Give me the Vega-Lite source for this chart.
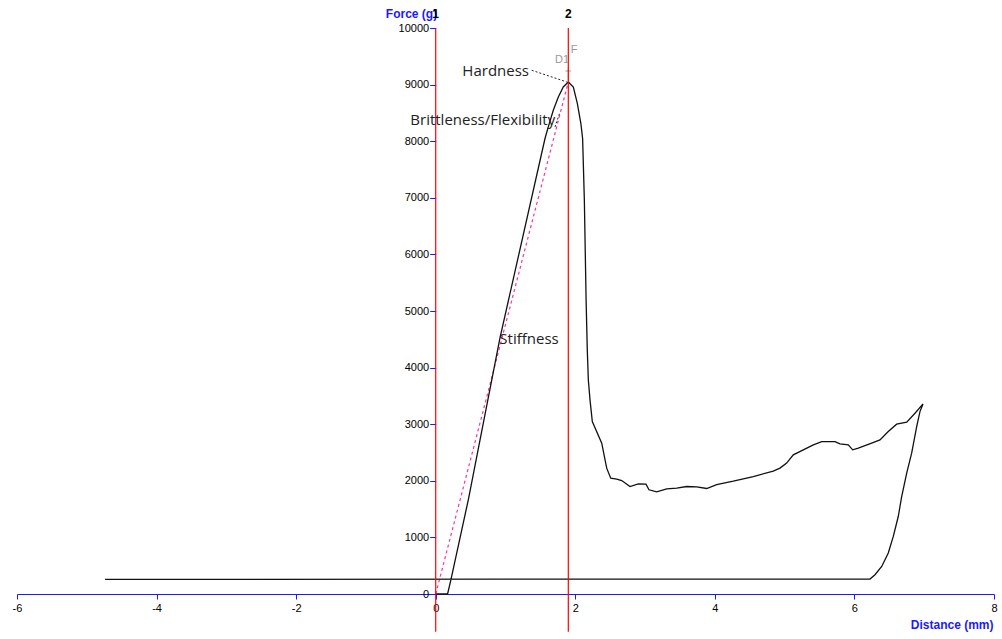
{
  "$schema": "https://vega.github.io/schema/vega-lite/v6.json",
  "width": 977,
  "height": 566,
  "autosize": {"type": "none"},
  "padding": {"left": 17, "top": 28, "right": 8, "bottom": 45},
  "background": "white",
  "config": {"view": {"stroke": null}},
  "datasets": {
    "curve": [
      {"i": 1, "d": 0, "f": 0},
      {"i": 2, "d": 0.17, "f": 0},
      {"i": 3, "d": 0.219, "f": 258},
      {"i": 4, "d": 0.467, "f": 1664},
      {"i": 5, "d": 0.921, "f": 4525},
      {"i": 6, "d": 1.566, "f": 8048},
      {"i": 7, "d": 1.613, "f": 8252},
      {"i": 8, "d": 1.685, "f": 8547},
      {"i": 9, "d": 1.757, "f": 8782},
      {"i": 10, "d": 1.828, "f": 8958},
      {"i": 11, "d": 1.9, "f": 9047},
      {"i": 12, "d": 1.972, "f": 8958},
      {"i": 13, "d": 2.03, "f": 8665},
      {"i": 14, "d": 2.08, "f": 8312},
      {"i": 15, "d": 2.105, "f": 8048},
      {"i": 16, "d": 2.13, "f": 6959},
      {"i": 17, "d": 2.155, "f": 5194},
      {"i": 18, "d": 2.172, "f": 4311},
      {"i": 19, "d": 2.187, "f": 3782},
      {"i": 20, "d": 2.211, "f": 3429},
      {"i": 21, "d": 2.244, "f": 3046},
      {"i": 22, "d": 2.379, "f": 2665},
      {"i": 23, "d": 2.45, "f": 2224},
      {"i": 24, "d": 2.508, "f": 2047},
      {"i": 25, "d": 2.594, "f": 2030},
      {"i": 26, "d": 2.665, "f": 2005},
      {"i": 27, "d": 2.784, "f": 1899},
      {"i": 28, "d": 2.903, "f": 1947},
      {"i": 29, "d": 3.013, "f": 1941},
      {"i": 30, "d": 3.056, "f": 1841},
      {"i": 31, "d": 3.167, "f": 1805},
      {"i": 32, "d": 3.31, "f": 1858},
      {"i": 33, "d": 3.453, "f": 1871},
      {"i": 34, "d": 3.597, "f": 1899},
      {"i": 35, "d": 3.74, "f": 1894},
      {"i": 36, "d": 3.883, "f": 1864},
      {"i": 37, "d": 4.026, "f": 1934},
      {"i": 38, "d": 4.264, "f": 1994},
      {"i": 39, "d": 4.551, "f": 2075},
      {"i": 40, "d": 4.837, "f": 2171},
      {"i": 41, "d": 4.933, "f": 2224},
      {"i": 42, "d": 5.029, "f": 2312},
      {"i": 43, "d": 5.124, "f": 2458},
      {"i": 44, "d": 5.267, "f": 2547},
      {"i": 45, "d": 5.411, "f": 2635},
      {"i": 46, "d": 5.531, "f": 2693},
      {"i": 47, "d": 5.722, "f": 2693},
      {"i": 48, "d": 5.793, "f": 2652},
      {"i": 49, "d": 5.912, "f": 2635},
      {"i": 50, "d": 5.975, "f": 2547},
      {"i": 51, "d": 6.055, "f": 2577},
      {"i": 52, "d": 6.247, "f": 2665},
      {"i": 53, "d": 6.366, "f": 2723},
      {"i": 54, "d": 6.485, "f": 2870},
      {"i": 55, "d": 6.605, "f": 3000},
      {"i": 56, "d": 6.749, "f": 3035},
      {"i": 57, "d": 6.868, "f": 3194},
      {"i": 58, "d": 6.983, "f": 3358},
      {"i": 59, "d": 6.939, "f": 3223},
      {"i": 60, "d": 6.892, "f": 2958},
      {"i": 61, "d": 6.82, "f": 2488},
      {"i": 62, "d": 6.749, "f": 2135},
      {"i": 63, "d": 6.677, "f": 1722},
      {"i": 64, "d": 6.628, "f": 1369},
      {"i": 65, "d": 6.557, "f": 1017},
      {"i": 66, "d": 6.485, "f": 724},
      {"i": 67, "d": 6.391, "f": 487},
      {"i": 68, "d": 6.295, "f": 341},
      {"i": 69, "d": 6.223, "f": 265},
      {"i": 70, "d": -4.738, "f": 258}
    ],
    "pink": [
      {"d": 0, "f": 0},
      {"d": 1.9, "f": 9047}
    ],
    "connectors": [
      {"g": "h", "d": 1.376, "f": 9253},
      {"g": "h", "d": 1.877, "f": 9047},
      {"g": "b", "d": 1.709, "f": 8250},
      {"g": "b", "d": 1.781, "f": 8515}
    ],
    "markers": [
      {"d": 0, "label": "1"},
      {"d": 1.9, "label": "2"}
    ],
    "notes": [
      {"d": 0.382, "f": 9236, "label": "Hardness"},
      {"d": -0.364, "f": 8371, "label": "Brittleness/Flexibility"},
      {"d": 0.912, "f": 4506, "label": "Stiffness"}
    ],
    "grey": [
      {"d": 1.81, "f": 9440, "label": "D1"},
      {"d": 1.984, "f": 9606, "label": "F"}
    ]
  },
  "layer": [
    {
      "data": {"name": "pink"},
      "mark": {"type": "line", "color": "#ff3399", "strokeWidth": 1.2, "strokeDash": [3, 3]},
      "encoding": {
        "x": {
          "field": "d", "type": "quantitative",
          "scale": {"domain": [-6, 8], "nice": false, "zero": false},
          "axis": {
            "values": [-6, -4, -2, 0, 2, 4, 6, 8],
            "labelExpr": "'' + datum.value",
            "grid": false,
            "domainColor": "#1a1aff",
            "domainWidth": 1.2,
            "tickColor": "#1a1aff",
            "tickSize": 5,
            "labelColor": "#000000",
            "labelFont": "Liberation Sans",
            "labelFontSize": 11,
            "labelPadding": 3,
            "labelFlush": false,
            "title": "Distance (mm)",
            "titleColor": "#1a1aff",
            "titleFont": "Liberation Sans",
            "titleFontSize": 12,
            "titleFontWeight": "bold",
            "titleAlign": "right",
            "titleBaseline": "middle",
            "titleX": 976,
            "titleY": 30
          }
        },
        "y": {
          "field": "f", "type": "quantitative",
          "scale": {"domain": [0, 10000], "nice": false},
          "axis": {
            "values": [0, 1000, 2000, 3000, 4000, 5000, 6000, 7000, 8000, 9000, 10000],
            "labelExpr": "'' + datum.value",
            "offset": -418.7,
            "grid": false,
            "domain": false,
            "tickColor": "#1a1aff",
            "tickSize": 6,
            "labelColor": "#000000",
            "labelFont": "Liberation Sans",
            "labelFontSize": 11,
            "labelPadding": 1,
            "labelFlush": false,
            "title": "Force (g)",
            "titleColor": "#1a1aff",
            "titleFont": "Liberation Sans",
            "titleFontSize": 12,
            "titleFontWeight": "bold",
            "titleAngle": 0,
            "titleAlign": "right",
            "titleBaseline": "middle",
            "titleX": 1,
            "titleY": -15
          }
        }
      }
    },
    {
      "data": {"name": "curve"},
      "mark": {"type": "line", "color": "#111111", "strokeWidth": 1.3},
      "encoding": {
        "x": {"field": "d", "type": "quantitative"},
        "y": {"field": "f", "type": "quantitative"},
        "order": {"field": "i", "type": "quantitative"}
      }
    },
    {
      "data": {"name": "connectors"},
      "mark": {"type": "line", "color": "#222222", "strokeWidth": 1, "strokeDash": [2, 2]},
      "encoding": {
        "x": {"field": "d", "type": "quantitative"},
        "y": {"field": "f", "type": "quantitative"},
        "detail": {"field": "g"}
      }
    },
    {
      "data": {"values": [{"d": 1.9, "f1": 9053, "f2": 9290}]},
      "mark": {"type": "rule", "color": "#999999", "strokeWidth": 1},
      "encoding": {
        "x": {"field": "d", "type": "quantitative"},
        "y": {"field": "f1", "type": "quantitative"},
        "y2": {"field": "f2"}
      }
    },
    {
      "data": {"values": [{"d1": 1.86, "d2": 1.94, "f": 9240}]},
      "mark": {"type": "rule", "color": "#999999", "strokeWidth": 1},
      "encoding": {
        "x": {"field": "d1", "type": "quantitative"},
        "x2": {"field": "d2"},
        "y": {"field": "f", "type": "quantitative"}
      }
    },
    {
      "data": {"name": "markers"},
      "mark": {"type": "rule", "color": "#ff0000", "strokeWidth": 1.2},
      "encoding": {
        "x": {"field": "d", "type": "quantitative"},
        "y": {"datum": 10000},
        "y2": {"datum": -665}
      }
    },
    {
      "data": {"name": "markers"},
      "mark": {"type": "text", "font": "Liberation Sans", "fontSize": 12, "fontWeight": "bold", "color": "#000000", "align": "center", "baseline": "middle"},
      "encoding": {
        "x": {"field": "d", "type": "quantitative"},
        "y": {"datum": 10255},
        "text": {"field": "label"}
      }
    },
    {
      "data": {"name": "notes"},
      "mark": {"type": "text", "font": "Open Sans", "fontSize": 15, "color": "#222222", "align": "left", "baseline": "middle"},
      "encoding": {
        "x": {"field": "d", "type": "quantitative"},
        "y": {"field": "f", "type": "quantitative"},
        "text": {"field": "label"}
      }
    },
    {
      "data": {"name": "grey"},
      "mark": {"type": "text", "font": "Liberation Sans", "fontSize": 11, "color": "#999999", "align": "center", "baseline": "middle"},
      "encoding": {
        "x": {"field": "d", "type": "quantitative"},
        "y": {"field": "f", "type": "quantitative"},
        "text": {"field": "label"}
      }
    }
  ]
}
